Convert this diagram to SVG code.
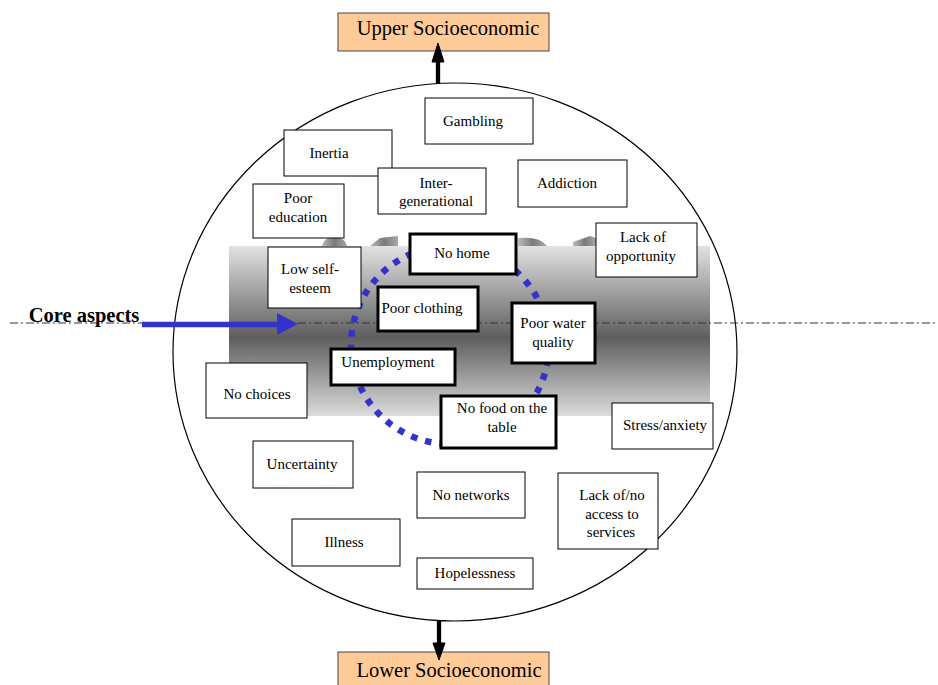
<svg xmlns="http://www.w3.org/2000/svg" width="938" height="685" viewBox="0 0 938 685">
<style>
text{font-family:"Liberation Serif","Times New Roman",serif;font-size:15px;fill:#000;text-anchor:middle}
.b{fill:#fff;stroke:#000;stroke-width:1}
.bb{fill:#fff;stroke:#000;stroke-width:3}
.se{fill:#ffcc99;stroke:#444;stroke-width:1}
.set{font-size:20.5px}
.hump{fill:url(#hg)}
</style>
<defs>
<linearGradient id="band" x1="0" y1="0" x2="0" y2="1">
<stop offset="0" stop-color="#e2e2e2"/>
<stop offset="0.54" stop-color="#5e5e5e"/>
<stop offset="1" stop-color="#dcdcdc"/>
</linearGradient>
<linearGradient id="hg" x1="0" y1="0" x2="1" y2="0">
<stop offset="0" stop-color="#bbbbbb"/>
<stop offset="0.5" stop-color="#7a7a7a"/>
<stop offset="1" stop-color="#a8a8a8"/>
</linearGradient>
</defs>
<rect width="938" height="685" fill="#fff"/>

<g id="background">
<ellipse cx="455" cy="352" rx="282" ry="269" fill="#fff" stroke="#000" stroke-width="1.2"/>
<rect x="229" y="246" width="481" height="170" fill="url(#band)"/>
<path class="hump" d="M322,246 Q324,237 334,237 Q345,237 347,246 Z"/>
<path class="hump" d="M370,246 L380,238 L398,236 L398,246 Z"/>
<path class="hump" d="M518,246 L518,238 Q540,236 547,246 Z"/>
<path class="hump" d="M573,246 L573,242 L590,236 L596,238 L596,246 Z"/>
</g>

<g id="connectors">
<line x1="10" y1="323" x2="938" y2="323" stroke="#333" stroke-width="1" stroke-dasharray="8 3 2 3"/>
<line x1="142" y1="324.5" x2="280" y2="324.5" stroke="#3333cc" stroke-width="5.5"/>
<path d="M277,313 L298,324 L277,335 Z" fill="#3333cc"/>
<circle cx="450" cy="345" r="99" fill="none" stroke="#3333cc" stroke-width="6.5" stroke-dasharray="6.5 8"/>
<line x1="438" y1="84" x2="438" y2="60" stroke="#000" stroke-width="4.3"/>
<line x1="439" y1="621" x2="439" y2="645" stroke="#000" stroke-width="4.3"/>
</g>

<g id="core-aspects"><text x="84" y="322" style="font-size:20.5px;font-weight:bold">Core aspects</text></g>

<g id="upper"><rect class="se" x="338" y="13" width="211" height="38"/><text class="set" x="448" y="35">Upper Socioeconomic</text></g>
<g id="lower"><rect class="se" x="338" y="652" width="211" height="40"/><text class="set" x="449" y="677">Lower Socioeconomic</text></g>
<g id="arrowheads">
<path d="M432,62 L438,43 L444,62 Z" fill="#000" stroke="#000" stroke-width="1"/>
<path d="M433,643 L439,660 L445,643 Z" fill="#000" stroke="#000" stroke-width="1"/>
</g>

<g id="gambling"><rect class="b" x="425" y="98" width="108" height="46"/><text x="473" y="126">Gambling</text></g>
<g id="inertia"><rect class="b" x="284" y="130" width="108" height="46"/><text x="329" y="158">Inertia</text></g>
<g id="intergenerational"><rect class="b" x="378" y="168" width="108" height="46"/><text x="436" y="188">Inter-</text><text x="436" y="206">generational</text></g>
<g id="addiction"><rect class="b" x="518" y="160" width="109" height="47"/><text x="567" y="188">Addiction</text></g>
<g id="poor-education"><rect class="b" x="253" y="184" width="91" height="54"/><text x="298" y="203">Poor</text><text x="298" y="222">education</text></g>
<g id="lack-of-opportunity"><rect class="b" x="596" y="223" width="101" height="54"/><text x="643" y="242">Lack of</text><text x="641" y="261">opportunity</text></g>
<g id="low-self-esteem"><rect class="b" x="268" y="247" width="93" height="61"/><text x="310" y="274">Low self-</text><text x="310" y="293">esteem</text></g>
<g id="no-home"><rect class="bb" x="410" y="234" width="106" height="40"/><text x="462" y="258">No home</text></g>
<g id="poor-clothing"><rect class="bb" x="378" y="287" width="100" height="44"/><text x="422" y="313">Poor clothing</text></g>
<g id="poor-water-quality"><rect class="bb" x="512" y="303" width="83" height="60"/><text x="553" y="328">Poor water</text><text x="553" y="347">quality</text></g>
<g id="unemployment"><rect class="bb" x="331" y="349" width="124" height="36"/><text x="388" y="367">Unemployment</text></g>
<g id="no-food"><rect class="bb" x="441" y="396" width="115" height="52"/><text x="502" y="413">No food on the</text><text x="502" y="432">table</text></g>
<g id="no-choices"><rect class="b" x="206" y="363" width="101" height="55"/><text x="257" y="399">No choices</text></g>
<g id="stress-anxiety"><rect class="b" x="612" y="403" width="101" height="46"/><text x="665" y="430">Stress/anxiety</text></g>
<g id="uncertainty"><rect class="b" x="253" y="441" width="100" height="47"/><text x="302" y="469">Uncertainty</text></g>
<g id="no-networks"><rect class="b" x="417" y="472" width="108" height="46"/><text x="471" y="500">No networks</text></g>
<g id="lack-of-access"><rect class="b" x="558" y="473" width="100" height="76"/><text x="612" y="500">Lack of/no</text><text x="612" y="519">access to</text><text x="611" y="537">services</text></g>
<g id="illness"><rect class="b" x="292" y="519" width="108" height="47"/><text x="344" y="547">Illness</text></g>
<g id="hopelessness"><rect class="b" x="417" y="558" width="116" height="31"/><text x="475" y="578">Hopelessness</text></g>
</svg>
